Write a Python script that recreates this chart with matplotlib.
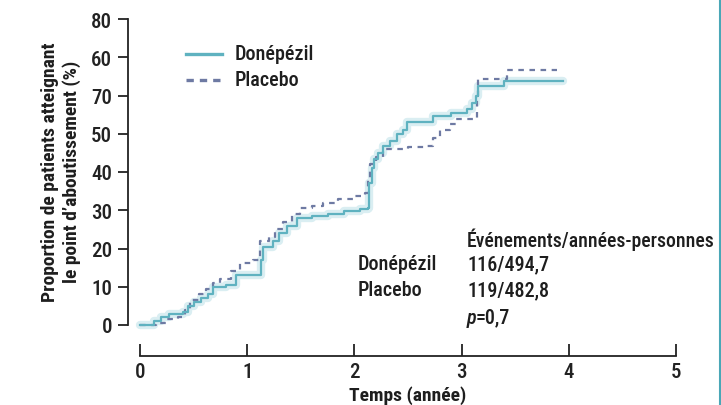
import matplotlib
matplotlib.use("Agg")
import matplotlib.pyplot as plt
from matplotlib.lines import Line2D

# ---- data ----
donepezil_t = [0, 0.13, 0.20, 0.27, 0.40, 0.45, 0.50, 0.57, 0.63, 0.68, 0.80, 0.90,
               1.13, 1.15, 1.24, 1.30, 1.37, 1.46, 1.60, 1.75, 1.90, 2.05, 2.13,
               2.14, 2.16, 2.18, 2.22, 2.27, 2.33, 2.40, 2.45, 2.49, 2.60, 2.73,
               2.90, 3.05, 3.10, 3.13, 3.15, 3.40, 3.95]
donepezil_y = [0, 1, 2, 3, 3.5, 5, 6, 7, 8, 10, 10.5, 13,
               17, 20.5, 22, 24, 26, 28, 28.5, 29, 29.7, 30.2, 30.7,
               37, 41, 43.3, 45, 46.7, 48, 50, 51, 53, 53.2, 54.6,
               55.3, 56.4, 58, 60, 62.5, 63.8, 63.8]

placebo_t = [0, 0.15, 0.25, 0.35, 0.42, 0.47, 0.55, 0.62, 0.68, 0.75, 0.85, 0.93,
             1.05, 1.12, 1.20, 1.26, 1.33, 1.42, 1.49, 1.60, 1.71, 1.85, 1.99,
             2.10, 2.13, 2.15, 2.20, 2.27, 2.50, 2.65, 2.73, 2.80, 2.89, 2.95,
             3.10, 3.14, 3.15, 3.42, 3.89]
placebo_y = [0, 0.5, 1.5, 2, 4, 6.6, 8, 9.5, 11, 12, 14, 16.3,
             17, 22, 23, 25, 27, 29, 30.5, 31, 32, 33, 33.6,
             34.6, 38, 42, 44, 46, 46.5, 46.7, 49, 51, 52.5, 53.8,
             53.8, 60, 64.3, 66.7, 66.7]

y_tick_pos = [0, 10, 20, 30, 40, 50, 60, 70, 80]
y_tick_labels = ["0", "10", "20", "30", "40", "50", "70", "60", "80"]
x_ticks = [0, 1, 2, 3, 4, 5]

series_names = ["Donépézil", "Placebo"]
events = ["116/494,7", "119/482,8"]
events_header = "Événements/années-personnes"
p_value = "=0,7"

# ---- styling ----
FONT = ["Roboto Condensed", "Liberation Sans", "DejaVu Sans"]
plt.rcParams["font.family"] = FONT
TEAL = "#5fb2c0"
HALO = "#d6edf1"
PLAC = "#6e7aa3"
TXT = "#1e1e1e"
WT = "medium"

W, H = 721, 406
fig = plt.figure(figsize=(W / 100, H / 100), dpi=100)
fig.patch.set_facecolor("white")

def fx(px):
    return px / W

def fy(py):
    return 1 - py / H

left, right, top, bottom = 128, 676, 20, 326
ax = fig.add_axes([fx(left), fy(bottom), (right - left) / W, (bottom - top) / H])
ax.set_xlim(-12 / 107.2, 5.0)
ax.set_ylim(0, 80)
ax.set_facecolor("white")

# curves
ax.step(donepezil_t, donepezil_y, where="post", color=HALO, lw=6, alpha=0.9,
        clip_on=False, solid_capstyle="round", zorder=1)
ax.step(placebo_t, placebo_y, where="post", color=PLAC, lw=1.6,
        dashes=(2.5, 2.5), clip_on=False, zorder=2)
ax.step(donepezil_t, donepezil_y, where="post", color=TEAL, lw=1.6,
        clip_on=False, zorder=3)

# spines
for s in ["top", "right"]:
    ax.spines[s].set_visible(False)
ax.spines["left"].set_bounds(0, 80)
ax.spines["left"].set_linewidth(1.3)
ax.spines["left"].set_color("#222222")
ax.spines["bottom"].set_position(("outward", 22))
ax.spines["bottom"].set_bounds(0, 5)
ax.spines["bottom"].set_linewidth(1.3)
ax.spines["bottom"].set_color("#222222")

ax.set_yticks(y_tick_pos)
ax.set_yticklabels(y_tick_labels, fontweight=WT)
ax.set_xticks(x_ticks)
ax.set_xticklabels([str(v) for v in x_ticks], fontweight=WT)
ax.tick_params(axis="y", direction="out", length=7.5, width=1.3, pad=4,
               labelsize=15, colors="#222222")
ax.tick_params(axis="x", direction="in", length=8.5, width=1.3, pad=5,
               labelsize=15, colors="#222222")

# legend (manual)
fig.add_artist(Line2D([fx(186), fx(222)], [fy(55), fy(55)], color=TEAL, lw=2.4))
fig.add_artist(Line2D([fx(186), fx(222)], [fy(81), fy(81)], color=PLAC, lw=2.4,
                      dashes=(2.2, 1.8)))
fig.text(fx(235), fy(55), series_names[0], fontsize=14.5, fontweight=WT, va="center", ha="left", color=TXT)
fig.text(fx(235), fy(81), series_names[1], fontsize=14.5, fontweight=WT, va="center", ha="left", color=TXT)

# annotations
fs = 14.5
fig.text(fx(467), fy(240), events_header, fontsize=14.2, fontweight=WT, va="center", ha="left", color=TXT)
fig.text(fx(358), fy(265), series_names[0], fontsize=fs, fontweight=WT, va="center", ha="left", color=TXT)
fig.text(fx(467), fy(265), events[0], fontsize=fs, fontweight=WT, va="center", ha="left", color=TXT)
fig.text(fx(358), fy(291), series_names[1], fontsize=fs, fontweight=WT, va="center", ha="left", color=TXT)
fig.text(fx(467), fy(291), events[1], fontsize=fs, fontweight=WT, va="center", ha="left", color=TXT)
fig.text(fx(467), fy(318), "p", fontsize=fs, fontweight=WT, style="italic", va="center", ha="left", color=TXT)
fig.text(fx(476), fy(318), p_value, fontsize=fs, fontweight=WT, va="center", ha="left", color=TXT)

# axis labels
fig.text(fx(61), fy(172), "Proportion de patients atteignant\nle point d\u2019aboutissement (%)",
         rotation=90, fontsize=14, fontweight="bold", ha="center", va="center",
         multialignment="center", linespacing=1.2, color=TXT)
fig.text(fx(408), fy(396), "Temps (année)", fontsize=14, fontweight="bold",
         ha="center", va="center", color=TXT)

# right border line
fig.add_artist(Line2D([fx(719.5), fx(719.5)], [0, 1], color="#4aa7b7", lw=1.5))

fig.savefig("out.png", dpi=100, facecolor="white")
